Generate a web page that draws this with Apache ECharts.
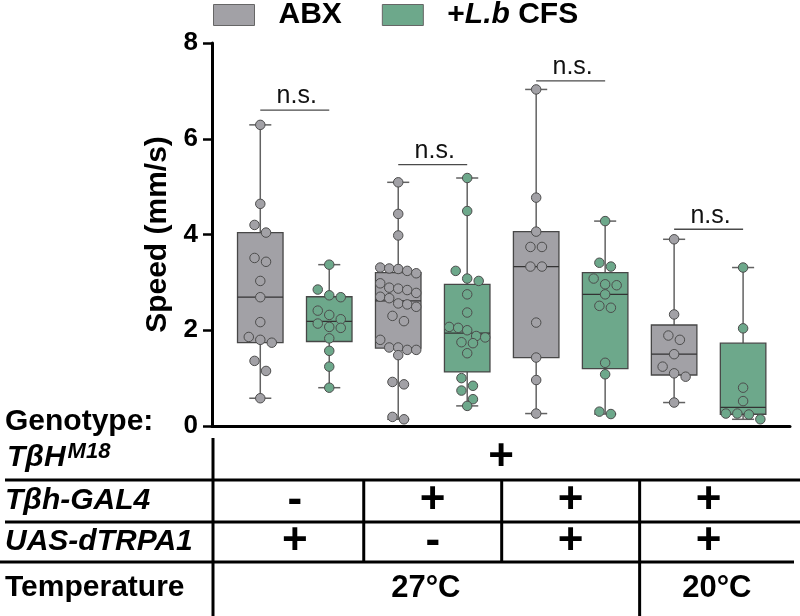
<!DOCTYPE html>
<html>
<head>
<meta charset="utf-8">
<script src="https://cdn.jsdelivr.net/npm/echarts@6/dist/echarts.min.js"></script>
<style>html,body{margin:0;padding:0;background:#fff}#chart{width:800px;height:616px}</style>
</head>
<body>
<div id="chart"></div>
<script>
// ---------------- data ----------------
const treatments = ['ABX', '+L.b CFS'];
const treatmentColors = ['#a2a1a6', '#6da88b'];
// 8 boxes, alternating ABX / +L.b CFS
const abxCtrl27  = [6.29, 4.64, 4.20, 4.04, 3.51, 3.43, 3.03, 2.69, 2.17, 1.86, 1.80, 1.74, 1.36, 1.15, 0.58];
const lbCtrl27   = [3.37, 2.85, 2.73, 2.69, 2.41, 2.32, 2.23, 2.14, 2.07, 2.05, 1.83, 1.57, 1.24, 0.80];
const abxGal4_27 = [5.09, 4.43, 3.98, 3.31, 3.29, 3.28, 3.24, 3.19, 2.98, 2.89, 2.87, 2.84, 2.78, 2.70, 2.67, 2.56, 2.54, 2.49, 2.30, 2.19, 1.80, 1.64, 1.64, 1.59, 1.59, 1.48, 0.92, 0.87, 0.19, 0.14];
const lbGal4_27  = [5.18, 4.49, 3.24, 3.08, 3.03, 2.75, 2.37, 2.07, 2.05, 2.00, 1.88, 1.85, 1.75, 1.73, 1.52, 1.00, 0.84, 0.74, 0.56, 0.42];
const abxTrpa27  = [7.03, 4.77, 4.06, 3.74, 3.74, 3.33, 3.33, 2.16, 1.43, 0.96, 0.26];
const lbTrpa27   = [4.28, 3.41, 3.33, 3.08, 2.96, 2.94, 2.75, 2.51, 2.47, 1.32, 1.08, 0.30, 0.25];
const abxTrpa20  = [3.90, 2.33, 1.89, 1.80, 1.50, 1.24, 1.10, 1.03, 0.49];
const lbTrpa20   = [3.31, 2.04, 0.80, 0.52, 0.26, 0.26, 0.24, 0.14];
const groupValues = [abxCtrl27, lbCtrl27, abxGal4_27, lbGal4_27, abxTrpa27, lbTrpa27, abxTrpa20, lbTrpa20];
const groupTreatment = [0, 1, 0, 1, 0, 1, 0, 1];

const yMin = 0, yMax = 8, yInterval = 2;
const yAxisTitle = 'Speed (mm/s)';

const nsPairs  = [[0, 1], [2, 3], [4, 5], [6, 7]];
const nsLevels = [6.60, 5.46, 7.21, 4.11];
const nsLabel  = 'n.s.';

// genotype table
const genotypeTitle = 'Genotype:';
const tbhLabel = 'TβH', tbhSup = 'M18';
const tbhValue = '+';
const gal4Label = 'Tβh-GAL4';
const gal4Values = ['-', '+', '+', '+'];
const uasLabel = 'UAS-dTRPA1';
const uasValues = ['+', '-', '+', '+'];
const tempLabel = 'Temperature';
const temperatures = ['27°C', '20°C'];
const temperatureSpans = [[0, 5], [6, 7]];   // box index ranges

// ---------------- helpers ----------------
const FONT = '"Liberation Sans", Arial, sans-serif';
function quant(sorted, p) {
  const pos = (sorted.length + 1) * p;
  const lo = Math.floor(pos), fr = pos - lo;
  if (lo < 1) return sorted[0];
  if (lo >= sorted.length) return sorted[sorted.length - 1];
  return sorted[lo - 1] + fr * (sorted[lo] - sorted[lo - 1]);
}
function boxStats(vals, i) {
  const s = vals.slice().sort((a, b) => a - b);
  return [i, s[0], quant(s, 0.25), quant(s, 0.5), quant(s, 0.75), s[s.length - 1]];
}
const boxData = [[], []];
groupValues.forEach((v, i) => boxData[groupTreatment[i]].push(boxStats(v, i)));

const xMin = -0.70, xMax = 7.68;

function renderBox(params, api) {
  const x = api.value(0);
  const band = api.size([1, 0])[0];
  const bw = band * 0.66, cw = band * 0.32;
  const pMin = api.coord([x, api.value(1)]);
  const pQ1 = api.coord([x, api.value(2)]);
  const pMed = api.coord([x, api.value(3)]);
  const pQ3 = api.coord([x, api.value(4)]);
  const pMax = api.coord([x, api.value(5)]);
  const cx = pMed[0];
  const ws = { stroke: '#626262', lineWidth: 1.5 };
  return {
    type: 'group',
    children: [
      { type: 'line', shape: { x1: cx, y1: pMax[1], x2: cx, y2: pQ3[1] }, style: ws },
      { type: 'line', shape: { x1: cx, y1: pQ1[1], x2: cx, y2: pMin[1] }, style: ws },
      { type: 'line', shape: { x1: cx - cw / 2, y1: pMax[1], x2: cx + cw / 2, y2: pMax[1] }, style: ws },
      { type: 'line', shape: { x1: cx - cw / 2, y1: pMin[1], x2: cx + cw / 2, y2: pMin[1] }, style: ws },
      { type: 'rect', shape: { x: cx - bw / 2, y: pQ3[1], width: bw, height: pQ1[1] - pQ3[1] },
        style: { fill: api.visual('color'), stroke: '#474747', lineWidth: 1.3 } },
      { type: 'line', shape: { x1: cx - bw / 2, y1: pMed[1], x2: cx + bw / 2, y2: pMed[1] },
        style: { stroke: '#333', lineWidth: 1.3 } }
    ]
  };
}
function renderNs(params, api) {
  const a = api.coord([api.value(0), api.value(2)]);
  const b = api.coord([api.value(1), api.value(2)]);
  return {
    type: 'group',
    children: [
      { type: 'line', shape: { x1: a[0], y1: a[1], x2: b[0], y2: b[1] }, style: { stroke: '#4a4a4a', lineWidth: 1.3 } },
      { type: 'text', x: (a[0] + b[0]) / 2 + 2, y: a[1] - 1,
        style: { text: nsLabel, fontSize: 25, fontFamily: FONT, fill: '#111', align: 'center', verticalAlign: 'bottom' } }
    ]
  };
}

const chart = echarts.init(document.getElementById('chart'), null, { renderer: 'canvas' });
const legendFmt = name => name.indexOf('L.b') >= 0
  ? '{b|' + name.replace('L.b', '}{i|L.b}{b|') + '}'
  : '{b|' + name + '}';

const option = {
  animation: false,
  backgroundColor: '#fff',
  grid: { left: 212, right: 10, top: 43, bottom: 190, outerBoundsMode: 'none', containLabel: false },
  legend: {
    left: 213, top: 0, padding: 0, itemWidth: 41, itemHeight: 21, itemGap: 40, icon: 'rect',
    data: treatments.map((t, k) => ({ name: t, itemStyle: { color: treatmentColors[k], borderColor: '#666', borderWidth: 1 } })),
    formatter: legendFmt,
    textStyle: {
      padding: [0, 0, 0, 19],
      rich: {
        b: { fontSize: 30, fontWeight: 'bold', fontFamily: FONT, color: '#000', lineHeight: 30 },
        i: { fontSize: 30, fontWeight: 'bold', fontStyle: 'italic', fontFamily: FONT, color: '#000', lineHeight: 30 }
      }
    },
    selectedMode: false
  },
  xAxis: {
    type: 'value', min: xMin, max: xMax,
    axisLine: { show: true, onZero: false, lineStyle: { color: '#000', width: 3 } },
    axisTick: { show: false }, axisLabel: { show: false }, splitLine: { show: false }
  },
  yAxis: {
    type: 'value', min: yMin, max: yMax, interval: yInterval,
    name: yAxisTitle, nameLocation: 'middle', nameGap: 39,
    nameTextStyle: { fontSize: 30, fontWeight: 'bold', fontFamily: FONT, color: '#000' },
    axisLine: { show: true, onZero: false, lineStyle: { color: '#000', width: 3 } },
    axisTick: { show: true, length: 9, lineStyle: { color: '#000', width: 2.5 } },
    axisLabel: { fontSize: 26, fontWeight: 'bold', fontFamily: FONT, color: '#000', margin: 14 },
    splitLine: { show: false }
  },
  series: [
    { type: 'custom', name: treatments[0], renderItem: renderBox, data: boxData[0],
      itemStyle: { color: treatmentColors[0] }, encode: { x: 0, y: [1, 2, 3, 4, 5] }, z: 2 },
    { type: 'custom', name: treatments[1], renderItem: renderBox, data: boxData[1],
      itemStyle: { color: treatmentColors[1] }, encode: { x: 0, y: [1, 2, 3, 4, 5] }, z: 2 },
    { id: 'dots0', type: 'scatter', name: treatments[0], data: [], symbolSize: 9.5, z: 4,
      itemStyle: { color: treatmentColors[0], borderColor: '#4d4d4d', borderWidth: 1, opacity: 1 } },
    { id: 'dots1', type: 'scatter', name: treatments[1], data: [], symbolSize: 9.5, z: 4,
      itemStyle: { color: treatmentColors[1], borderColor: '#4d4d4d', borderWidth: 1, opacity: 1 } },
    { type: 'custom', name: 'ns', renderItem: renderNs,
      data: nsPairs.map((p, k) => [p[0], p[1], nsLevels[k]]), encode: { x: [0, 1], y: 2 }, z: 5, silent: true }
  ]
};
chart.setOption(option);

// ------- beeswarm layout using the chart's own scales -------
const toPx = (x, y) => chart.convertToPixel({ gridIndex: 0 }, [x, y]);
const unitX = toPx(1, 0)[0] - toPx(0, 0)[0];
const dotData = [[], []];
const binH = 11;
groupValues.forEach((vals, i) => {
  const sorted = vals.slice().sort((a, b) => b - a);
  let bin = [];
  const flush = () => {
    const n = bin.length;
    const sp = n > 1 ? Math.min(11.5, 36 / (n - 1)) : 0;
    bin.forEach((v, k) => {
      const dx = (k - (n - 1) / 2) * sp;
      dotData[groupTreatment[i]].push([i + dx / unitX, v]);
    });
    bin = [];
  };
  let startY = null;
  sorted.forEach(v => {
    const py = toPx(i, v)[1];
    if (bin.length && py - startY >= binH) flush();
    if (!bin.length) startY = py;
    bin.push(v);
  });
  flush();
});

// ------- genotype table -------
const X = v => toPx(v, 0)[0];
const axisLeft = X(xMin), axisRight = X(xMax);
const colB = [X(1.5), X(3.5), X(5.5)];
const pairCenter = k => X(2 * k + 0.5);
const blk = { stroke: '#000', lineWidth: 3 };
const hline = (x1, x2, y) => ({ type: 'line', shape: { x1, y1: y, x2, y2: y }, style: blk, silent: true });
const vline = (x, y1, y2) => ({ type: 'line', shape: { x1: x, y1, x2: x, y2 }, style: blk, silent: true });
const label = (text, x, y, italic) => ({
  type: 'text', x, y, silent: true,
  style: { text, fontSize: 30, fontWeight: 'bold', fontStyle: italic ? 'italic' : 'normal', fontFamily: FONT,
    fill: '#000', align: 'left', verticalAlign: 'middle' }
});
const sign = (text, x, y) => ({
  type: 'text', x, y, silent: true,
  style: { text, fontSize: 44, fontWeight: 'bold', fontFamily: FONT, fill: '#000', align: 'center', verticalAlign: 'middle' }
});
const rowY = { geno: 422, tbh: 458, gal4: 501, uas: 542, temp: 588 };
const graphics = [
  hline(5, 800, 480), hline(5, 800, 522), hline(0, axisRight + 4, 562),
  vline(axisLeft + 1, 438, 616), vline(colB[2], 480, 616), vline(colB[0], 480, 562), vline(colB[1], 480, 562),
  label(genotypeTitle, 5, rowY.geno, false),
  { type: 'text', x: 7, y: rowY.tbh, silent: true,
    style: { text: '{m|' + tbhLabel + '}{s|' + tbhSup + '}', verticalAlign: 'middle', align: 'left',
      rich: {
        m: { fontSize: 30, fontWeight: 'bold', fontStyle: 'italic', fontFamily: FONT, fill: '#000', lineHeight: 34 },
        s: { fontSize: 22, fontWeight: 'bold', fontStyle: 'italic', fontFamily: FONT, fill: '#000', verticalAlign: 'top', lineHeight: 34, padding: [0, 0, 0, 2] }
      } } },
  label(gal4Label, 5, rowY.gal4, true),
  label(uasLabel, 5, rowY.uas, true),
  label(tempLabel, 5, rowY.temp, false),
  sign(tbhValue, (axisLeft + axisRight) / 2, rowY.tbh)
];
gal4Values.forEach((s, k) => graphics.push(sign(s, pairCenter(k), rowY.gal4)));
uasValues.forEach((s, k) => graphics.push(sign(s, pairCenter(k), rowY.uas)));
temperatures.forEach((t, k) => {
  const span = temperatureSpans[k];
  const left = span[0] === 0 ? axisLeft : X(span[0] - 0.5);
  const right = span[1] === groupValues.length - 1 ? axisRight + 4 : X(span[1] + 0.5);
  graphics.push({ type: 'text', x: (left + right) / 2, y: rowY.temp, silent: true,
    style: { text: t, fontSize: 31, fontWeight: 'bold', fontFamily: FONT, fill: '#000', align: 'center', verticalAlign: 'middle' } });
});

chart.setOption({
  series: [{ id: 'dots0', data: dotData[0] }, { id: 'dots1', data: dotData[1] }],
  graphic: graphics
});
</script>
</body>
</html>
